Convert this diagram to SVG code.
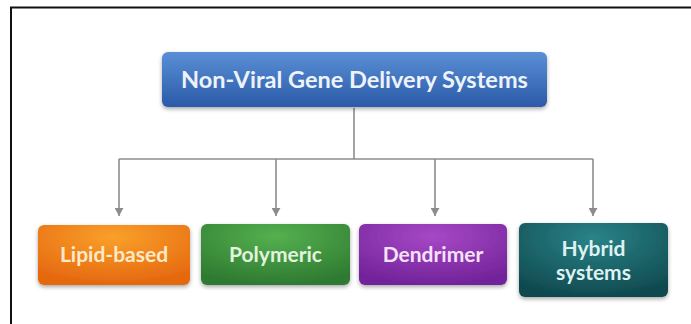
<svg xmlns="http://www.w3.org/2000/svg" width="691" height="324" viewBox="0 0 691 324">
<style>
.lbl{font-family:Lato,"Open Sans","Liberation Sans",sans-serif;font-weight:bold;text-anchor:middle;}
.conn{stroke:#8c8c8c;stroke-width:1.6;fill:none;}
</style>
<defs>
<filter id="sh" x="-10%" y="-20%" width="120%" height="150%">
<feGaussianBlur in="SourceAlpha" stdDeviation="2"/>
<feOffset dx="0" dy="2"/>
<feComponentTransfer><feFuncA type="linear" slope="0.35"/></feComponentTransfer>
<feMerge><feMergeNode/><feMergeNode in="SourceGraphic"/></feMerge>
</filter>
<linearGradient id="gBlue" x1="0" y1="0" x2="0" y2="1"><stop offset="0" stop-color="#5a8fd6"/><stop offset="1" stop-color="#2b5aa8"/></linearGradient>
<radialGradient id="gOrange" cx="0.5" cy="0.2" r="0.8"><stop offset="0" stop-color="#f9a02a"/><stop offset="1" stop-color="#e5670f"/></radialGradient>
<radialGradient id="gGreen" cx="0.5" cy="0.2" r="0.8"><stop offset="0" stop-color="#55b04f"/><stop offset="1" stop-color="#2e7a31"/></radialGradient>
<radialGradient id="gPurple" cx="0.5" cy="0.2" r="0.8"><stop offset="0" stop-color="#a748c6"/><stop offset="1" stop-color="#72239a"/></radialGradient>
<radialGradient id="gTeal" cx="0.5" cy="0.2" r="0.8"><stop offset="0" stop-color="#2a8387"/><stop offset="1" stop-color="#0f4a50"/></radialGradient>
<marker id="arr" viewBox="0 0 10 10" refX="9" refY="5" markerWidth="9" markerHeight="9" orient="auto" markerUnits="userSpaceOnUse">
<path d="M0,0 L9,5 L0,10 Z" fill="#8c8c8c"/>
</marker>
</defs>
<rect width="691" height="324" fill="#ffffff"/>
<path d="M11,324 V7.5 H691" stroke="#111" stroke-width="2" fill="none"/>
<g id="connectors">
<path class="conn" d="M354,108 V159"/>
<path class="conn" d="M119,159 H593"/>
<path class="conn" d="M119,159 V216" marker-end="url(#arr)"/>
<path class="conn" d="M276,159 V216" marker-end="url(#arr)"/>
<path class="conn" d="M435,159 V216" marker-end="url(#arr)"/>
<path class="conn" d="M593,159 V216" marker-end="url(#arr)"/>
</g>
<g id="root">
<rect x="162" y="52" width="385" height="55" rx="6" fill="url(#gBlue)" filter="url(#sh)"/>
<text class="lbl" x="354.5" y="87.5" font-size="23.5" fill="#eef3fb">Non-Viral Gene Delivery Systems</text>
</g>
<g id="lipid">
<rect x="38" y="225" width="152" height="60" rx="6" fill="url(#gOrange)" filter="url(#sh)"/>
<text class="lbl" x="114" y="262" font-size="21" fill="#fde9c8">Lipid-based</text>
</g>
<g id="polymeric">
<rect x="201" y="224" width="149" height="61" rx="6" fill="url(#gGreen)" filter="url(#sh)"/>
<text class="lbl" x="275.5" y="262" font-size="21" fill="#e3f3de">Polymeric</text>
</g>
<g id="dendrimer">
<rect x="359" y="224" width="148" height="61" rx="6" fill="url(#gPurple)" filter="url(#sh)"/>
<text class="lbl" x="433" y="262" font-size="21" fill="#f6e1fa">Dendrimer</text>
</g>
<g id="hybrid">
<rect x="519" y="223" width="149" height="74" rx="6" fill="url(#gTeal)" filter="url(#sh)"/>
<text class="lbl" x="593.5" y="256" font-size="21" fill="#dff1f1">Hybrid</text>
<text class="lbl" x="593.5" y="280" font-size="21" fill="#dff1f1">systems</text>
</g>
</svg>
